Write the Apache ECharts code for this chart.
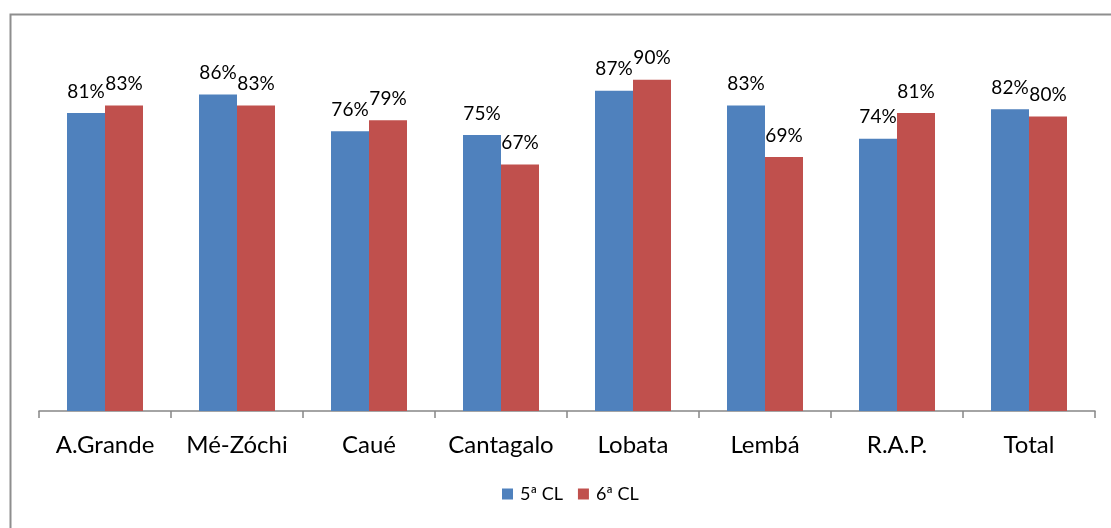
<!DOCTYPE html>
<html>
<head>
<meta charset="utf-8">
<script src="https://cdn.jsdelivr.net/npm/echarts@6/dist/echarts.min.js"></script>
<style>
html,body{margin:0;padding:0;background:#fff;}
#main{width:1111px;height:528px;}
</style>
</head>
<body>
<div id="main"></div>
<script>
const categories = ['A.Grande', 'Mé-Zóchi', 'Caué', 'Cantagalo', 'Lobata', 'Lembá', 'R.A.P.', 'Total'];
const seriesNames = ['5ª CL', '6ª CL'];
const values5 = [0.81, 0.86, 0.76, 0.75, 0.87, 0.83, 0.74, 0.82];
const values6 = [0.83, 0.83, 0.79, 0.67, 0.90, 0.69, 0.81, 0.80];

const chart = echarts.init(document.getElementById('main'));
const font = 'Lato, "Open Sans", sans-serif';
const labelCfg = {
  show: true,
  position: 'top',
  distance: 12,
  color: '#000',
  fontFamily: font,
  fontSize: 19,
  formatter: p => Math.round(p.value * 100) + '%'
};
chart.setOption({
  animation: false,
  backgroundColor: '#fff',
  graphic: [{
    type: 'rect',
    shape: { x: 10.5, y: 14.5, width: 1300, height: 700 },
    style: { fill: 'none', stroke: '#8e8e8e', lineWidth: 2 },
    silent: true
  }],
  grid: { left: 39, right: 16, top: 43, bottom: 117 },
  legend: {
    data: seriesNames,
    bottom: 20,
    left: 497,
    itemWidth: 11,
    itemHeight: 11,
    itemGap: 15,
    icon: 'rect',
    textStyle: { fontFamily: font, fontSize: 18, color: '#000', padding: [0, 0, 0, 2] }
  },
  xAxis: {
    type: 'category',
    data: categories,
    axisLine: { lineStyle: { color: '#868686', width: 1.5 } },
    axisTick: { show: true, length: 7, lineStyle: { color: '#868686', width: 1.5 } },
    axisLabel: { color: '#000', fontFamily: font, fontSize: 24, margin: 22, interval: 0 }
  },
  yAxis: {
    type: 'value',
    min: 0,
    max: 1,
    show: false,
    splitLine: { show: false }
  },
  series: [
    { name: seriesNames[0], type: 'bar', data: values5, barWidth: 38, barGap: '0%',
      itemStyle: { color: '#4F81BD' }, label: labelCfg },
    { name: seriesNames[1], type: 'bar', data: values6, barWidth: 38, barGap: '0%',
      itemStyle: { color: '#C0504D' }, label: labelCfg }
  ]
});
</script>
</body>
</html>
